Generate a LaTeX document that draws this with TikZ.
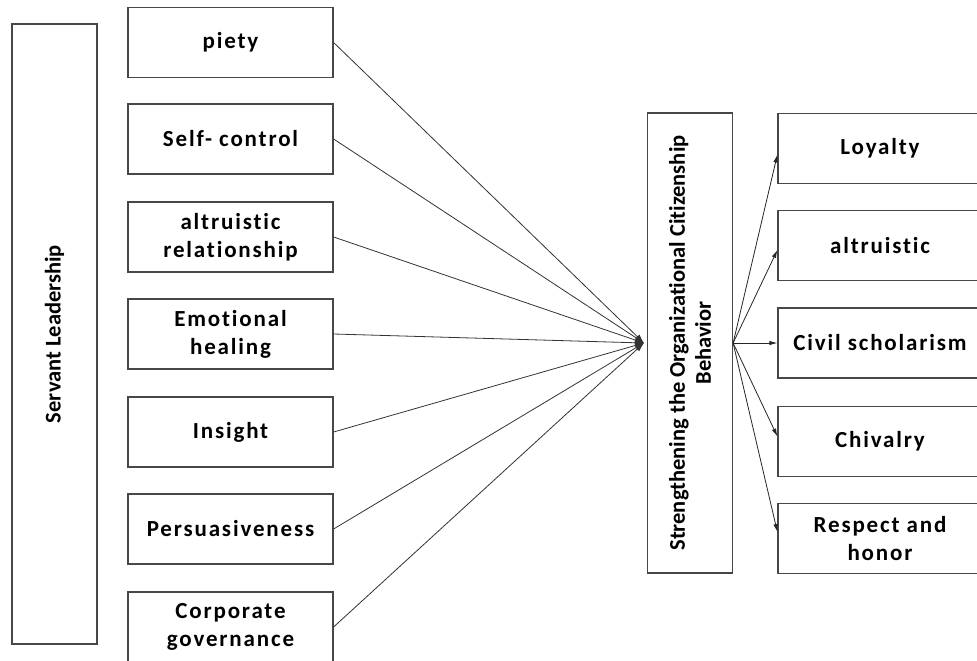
\documentclass[tikz,border=0pt]{standalone}
\usepackage{fontspec}
\setmainfont{Carlito}[Ligatures=NoCommon]
\newfontfamily\boxfont{Carlito}[LetterSpace=8,Ligatures=NoCommon]
\usetikzlibrary{arrows.meta}
\begin{document}
\begin{tikzpicture}[x=1pt,y=-1pt,
  txt/.style={font=\bfseries\fontsize{22.5}{26}\selectfont, align=center, inner sep=0pt},
  btxt/.style={font=\boxfont\bfseries\fontsize{23}{28}\selectfont, align=center, inner sep=0pt},
  boxst/.style={draw=black!72, line width=1.2pt, inner sep=0pt},
  mid/.style={boxst, btxt, minimum width=205pt, minimum height=70pt},
  rgt/.style={boxst, btxt, minimum width=204pt, minimum height=70pt},
  conn/.style={draw=black!80, line width=0.8pt, -{Latex[length=9pt,width=6pt]}},
  outarr/.style={draw=black!85, line width=0.8pt, -{Latex[length=8pt,width=4.5pt]}}]
\useasboundingbox (0,0) rectangle (977,661);
\fill[white] (0,0) rectangle (977,661);
% left big box
\node[boxst, minimum width=85pt, minimum height=620pt] (sl) at (54.5,334) {};
\node[txt, rotate=90] (slt) at (sl.center) {Servant Leadership};
% middle column
\node[mid] (p1) at (230.5,42.5) {piety};
\node[mid] (p2) at (230.5,139) {Self- control};
\node[mid] (p3) at (230.5,237) {altruistic\\relationship};
\node[mid] (p4) at (230.5,334) {Emotional\\healing};
\node[mid] (p5) at (230.5,432) {Insight};
\node[mid] (p6) at (230.5,529) {Persuasiveness};
\node[mid] (p7) at (230.5,627) {Corporate\\governance};
% center box
\node[boxst, minimum width=85pt, minimum height=460pt] (cb) at (690,343) {};
\node[txt, rotate=90] (cbt) at (cb.center) {Strengthening the Organizational Citizenship\\Behavior};
\coordinate (hub) at ([xshift=-3pt]cb.west);
% right column
\node[rgt] (r1) at (880,148.5) {Loyalty};
\node[rgt] (r2) at (880,245.5) {altruistic};
\node[rgt] (r3) at (880,343) {Civil scholarism};
\node[rgt] (r4) at (880,441.5) {Chivalry};
\node[rgt] (r5) at (880,538.5) {Respect and\\honor};
% connectors
\foreach \n in {p1,p2,p3,p4,p5,p6,p7} \draw[conn] (\n.east) -- (hub);
\draw[outarr] (cb.east) -- ([yshift=-6pt]r1.west);
\draw[outarr] (cb.east) -- ([yshift=-4.5pt]r2.west);
\draw[outarr] (cb.east) -- (r3.west);
\draw[outarr] (cb.east) -- ([yshift=5pt]r4.west);
\draw[outarr] (cb.east) -- ([yshift=6.5pt]r5.west);
\end{tikzpicture}
\end{document}
